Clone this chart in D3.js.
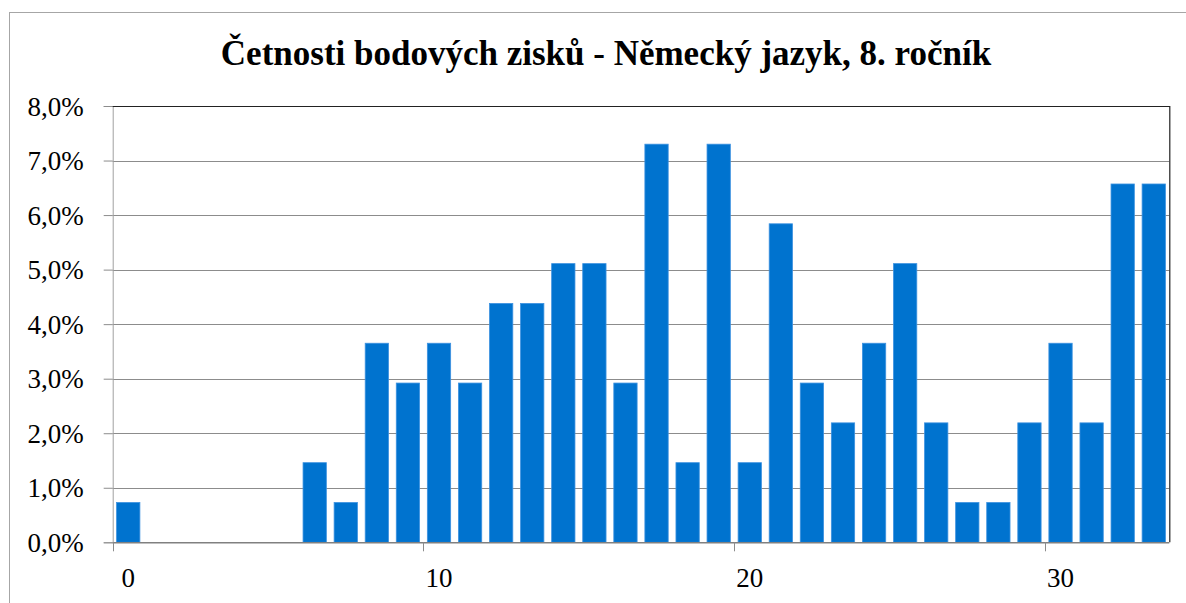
<!DOCTYPE html>
<html>
<head>
<meta charset="utf-8">
<script src="https://cdn.jsdelivr.net/npm/d3@7"></script>
<style>
body{margin:0;background:#fff;}
svg{display:block;}
text{font-family:"Liberation Serif","Times New Roman",Tinos,"DejaVu Serif",serif;}
</style>
</head>
<body>
<svg id="canvas" width="1186" height="603"></svg>
<script>
// body zisky 0..33, cetnosti v procentech (137 zaku)
let points=d3.range(0,34);
let shares=[0.73,0,0,0,0,0,1.46,0.73,3.65,2.92,3.65,2.92,4.38,4.38,5.11,5.11,2.92,7.30,1.46,7.30,1.46,5.84,2.92,2.19,3.65,5.11,2.19,0.73,0.73,2.19,3.65,2.19,6.57,6.57];
let yTicks=[0,1,2,3,4,5,6,7,8];
let xLabels=[0,10,20,30];
let title="Četnosti bodových zisků - Německý jazyk, 8. ročník";

let canvas=d3.select("#canvas");
let pL=112.7, pR=1169.3, pT=106, pB=542.3;
let serif='"Liberation Serif","Times New Roman",Tinos,"DejaVu Serif",serif';

let xScale=d3.scaleBand().domain(points).range([pL,pR]).paddingInner(0.25).paddingOuter(0.125);
let band=d3.scaleBand().domain(points).range([pL,pR]).padding(0);
let yScale=d3.scaleLinear().domain([0,8]).range([pB,pT]);
let fmt=v=>d3.format(".1f")(v).replace(".",",")+"%";

// outer chart frame
canvas.append("rect").attr("x",9.5).attr("y",12.5).attr("width",1200).attr("height",620)
  .attr("fill","none").attr("stroke","#a6a6a6").attr("stroke-width",1);

canvas.append("text").text(title).attr("x",606).attr("y",65).attr("text-anchor","middle")
  .attr("font-family",serif).attr("font-size",35).attr("font-weight","bold").attr("fill","#000");

// gridlines
canvas.append("g").selectAll("line").data(yTicks.slice(1,-1)).enter().append("line")
  .attr("x1",pL).attr("x2",pR).attr("y1",d=>Math.round(yScale(d))+0.5).attr("y2",d=>Math.round(yScale(d))+0.5)
  .attr("stroke","#8c8c8c").attr("stroke-width",1);

// y axis
let yAxis=d3.axisLeft(yScale).tickValues(yTicks).tickFormat(fmt).tickSize(9).tickPadding(20);
let gy=canvas.append("g").attr("transform","translate("+pL+",0)").call(yAxis)
  .attr("font-family",serif).attr("font-size",27);
gy.select(".domain").attr("stroke","#a0a0a0");
gy.selectAll(".tick line").attr("stroke","#8c8c8c");
gy.selectAll("text").attr("fill","#000").attr("dy","0.34em");

// bars
canvas.append("g").selectAll("rect").data(shares).enter().append("rect")
  .attr("x",(d,i)=>xScale(points[i])).attr("width",xScale.bandwidth())
  .attr("y",d=>yScale(d)).attr("height",d=>pB-yScale(d))
  .attr("fill","#0073cf").attr("stroke","#3d92e0").attr("stroke-width",0.8);

// plot top and right border
canvas.append("path").attr("d","M"+pL+","+(pT+0.5)+"H"+(pR+0.5)+"V"+pB)
  .attr("fill","none").attr("stroke","#222").attr("stroke-width",1.2);

// x axis: ticks between categories, labels on categories
canvas.append("line").attr("x1",pL).attr("x2",pR).attr("y1",pB+0.5).attr("y2",pB+0.5)
  .attr("stroke","#808080").attr("stroke-width",1.5);
canvas.append("g").selectAll("line").data(xLabels).enter().append("line")
  .attr("x1",d=>Math.round(band(d))+0.5).attr("x2",d=>Math.round(band(d))+0.5)
  .attr("y1",pB).attr("y2",pB+9).attr("stroke","#8c8c8c");
canvas.append("g").selectAll("text").data(xLabels).enter().append("text")
  .text(d=>d).attr("x",d=>band(d)+band.bandwidth()/2).attr("y",587).attr("text-anchor","middle")
  .attr("font-family",serif).attr("font-size",27).attr("fill","#000");
</script>
</body>
</html>
